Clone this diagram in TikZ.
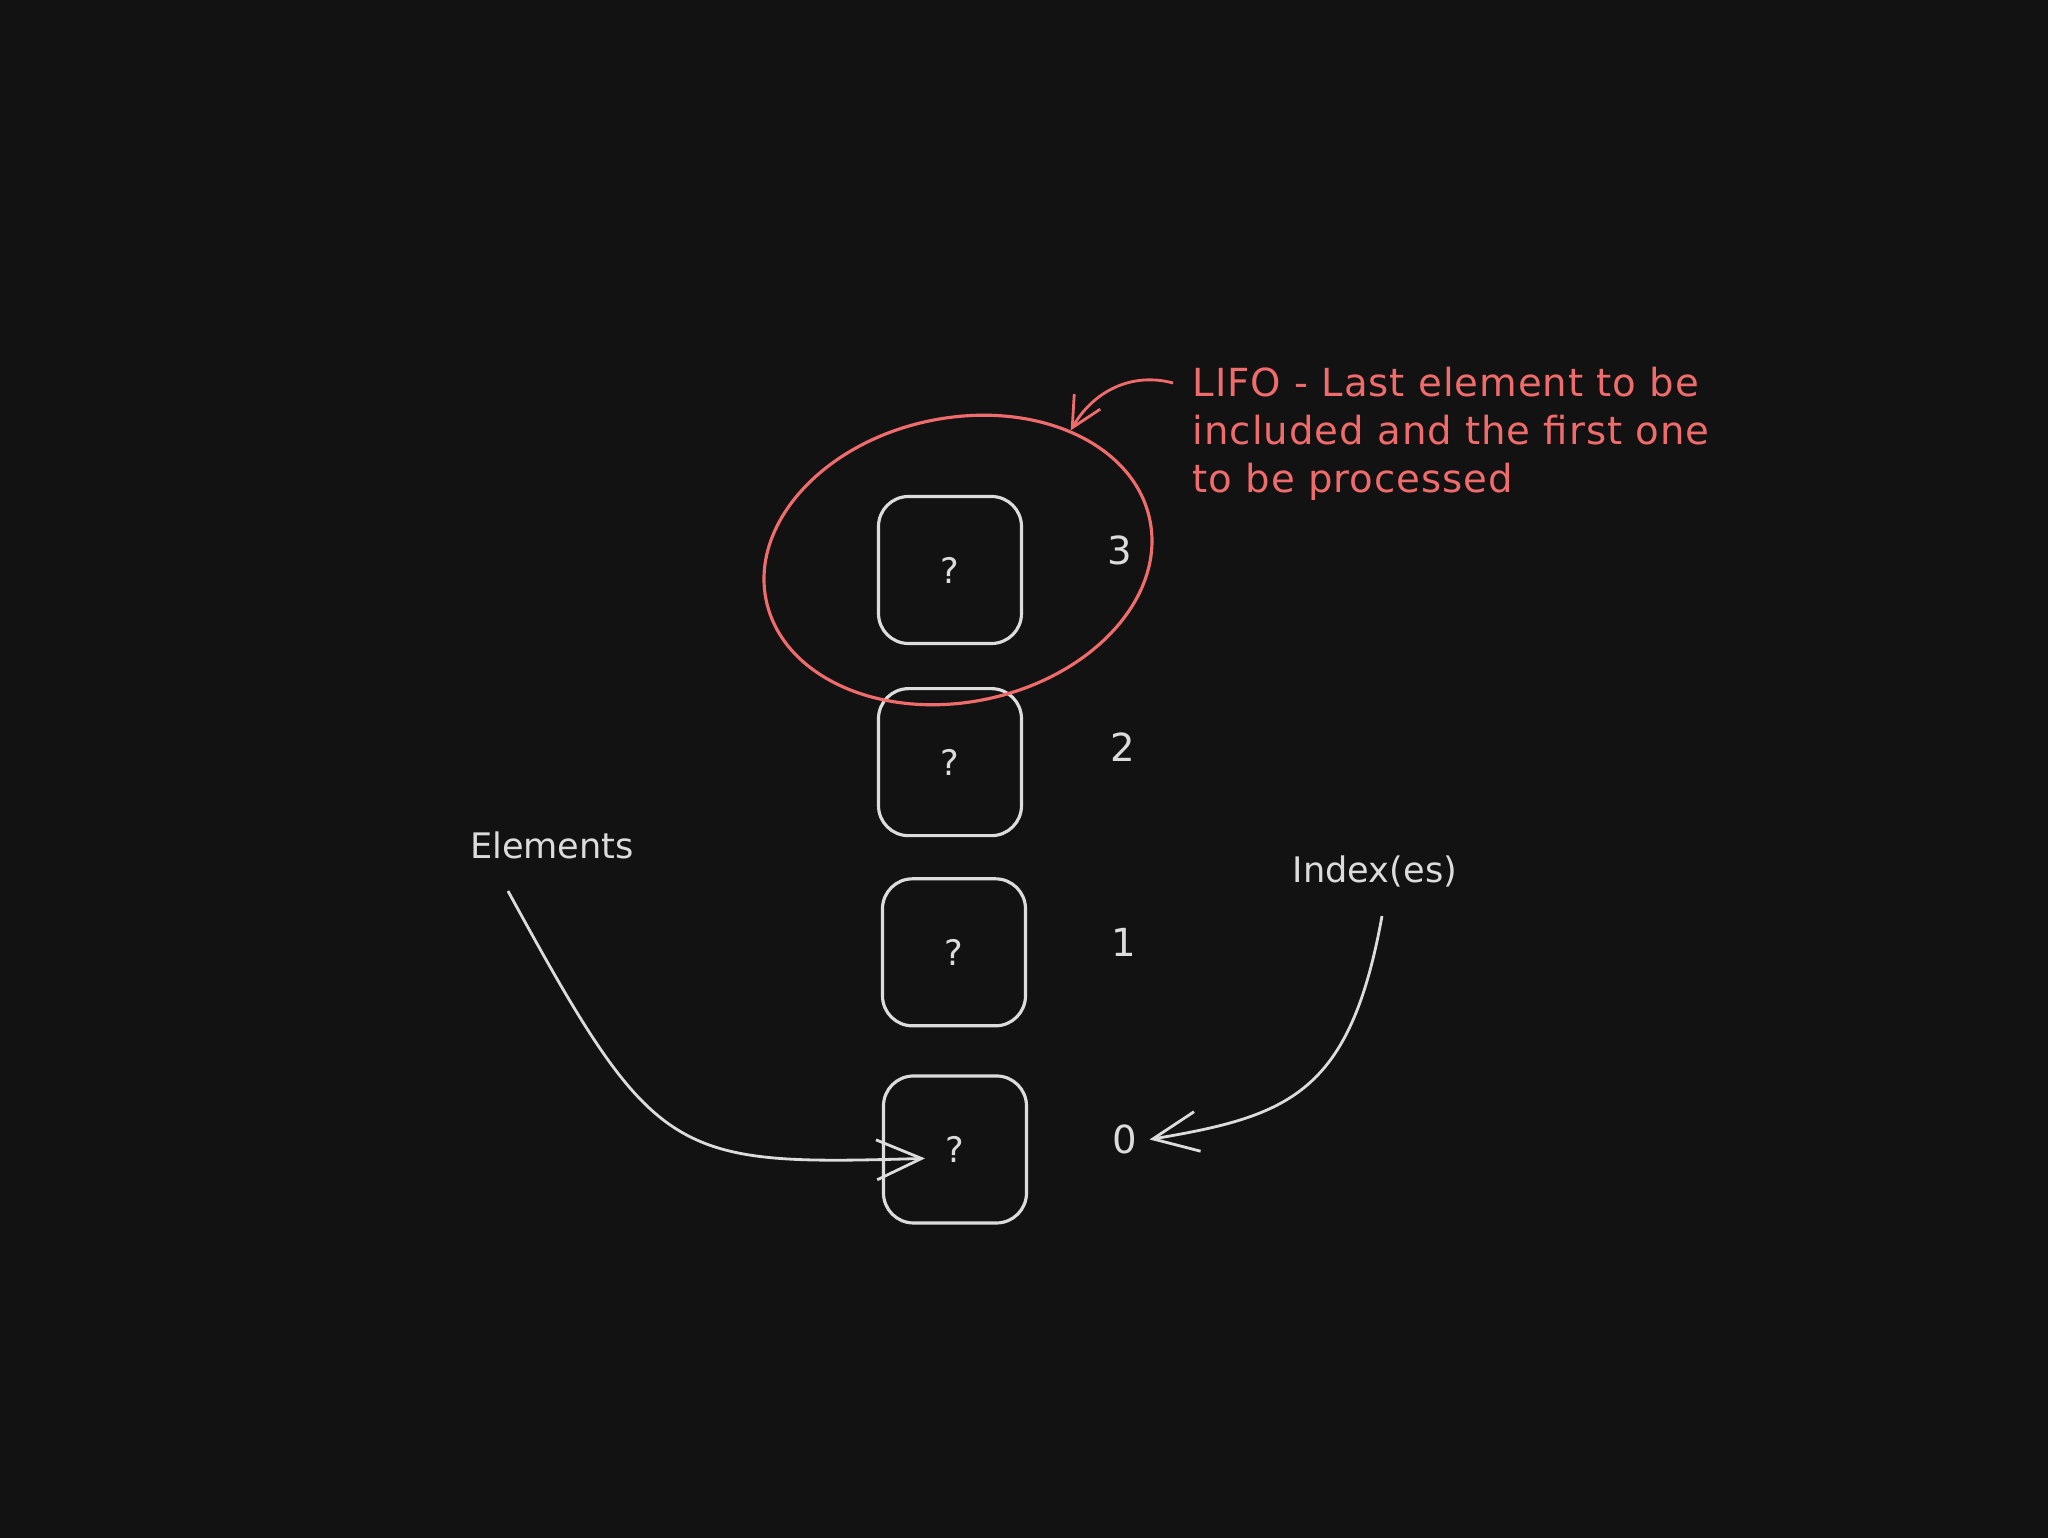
\documentclass[tikz,border=0pt]{standalone}
\usepackage{fontspec}
\setmainfont{DejaVu Sans}
\newfontfamily\notefont[LetterSpace=2.5]{DejaVu Sans}
\usetikzlibrary{positioning,shapes.geometric,arrows.meta,calc}
\definecolor{board}{HTML}{121212}
\definecolor{chalk}{HTML}{DCDCDC}
\definecolor{marker}{HTML}{F06B6B}

\begin{document}
\begin{tikzpicture}
\tikzset{
    slot/.style={rectangle, draw=chalk, line width=0.9pt, rounded corners=0.3cm, minimum width=1.43cm, minimum height=1.47cm, text=chalk, font=\fontsize{10}{12}\selectfont},
    num/.style={text=chalk, font=\fontsize{11}{13}\selectfont},
    tag/.style={text=chalk, font=\fontsize{10}{12}\selectfont},
    note/.style={text=marker, align=left, inner sep=0pt, font=\notefont\fontsize{11}{13.7}\selectfont},
    halo/.style={ellipse, draw=marker, line width=0.9pt, inner sep=0pt, minimum width=3.92cm, minimum height=2.84cm},
    link/.style={draw=chalk, line width=0.8pt, -{Straight Barb[length=4.5mm, width=4mm]}},
    redlink/.style={draw=marker, line width=0.8pt, -{Straight Barb[length=3mm, width=3mm]}}
}
\fill[board] (0,0) rectangle (20.48,15.38);

% stack slots, top to bottom
\node[slot] (s3) at (9.50,9.68) {?};
\node[slot, below=0.42cm of s3] (s2) {?};
\node[slot, below=0.40cm of s2, xshift=0.04cm] (s1) {?};
\node[slot, below=0.47cm of s1, xshift=0.01cm] (s0) {?};

\node[num, right=0.72cm of s3, yshift=2mm] (l3) {3};
\node[num, right=0.75cm of s2, yshift=1.5mm] (l2) {2};
\node[num, right=0.72cm of s1, yshift=1mm] (l1) {1};
\node[num, right=0.72cm of s0, yshift=1mm] (l0) {0};

% top of the stack
\node[halo, rotate=12] (ring) at ($(s3)+(0.08,0.10)$) {};
\node[note, anchor=north west] (lifo) at (11.92,11.72) {LIFO - Last element to be\\included and the first one\\to be processed};
\draw[redlink] ([xshift=-1.9mm, yshift=-1.7mm]lifo.north west) to[out=165, in=60] (ring.37);

\node[tag] (elements) at (5.52,6.93) {Elements};
\node[tag] (indexes) at (13.75,6.67) {Index(es)};

\draw[link, shorten >=3mm] ([xshift=-4.4mm, yshift=-2mm]elements.south) .. controls (6.55,3.78) and (6.7,3.72) .. ([yshift=-0.8mm]s0.center);
\draw[link] ([xshift=0.7mm, yshift=-1.7mm]indexes.south) .. controls (13.5,4.45) and (12.9,4.22) .. (l0.east);
\end{tikzpicture}
\end{document}
